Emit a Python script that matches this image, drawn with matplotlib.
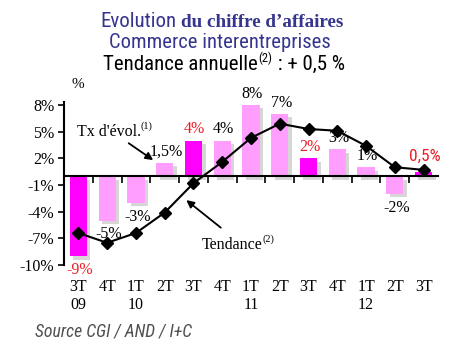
import numpy as np
import matplotlib
matplotlib.use('Agg')
import matplotlib.pyplot as plt
import matplotlib.patheffects as pe
from matplotlib.transforms import blended_transform_factory

# quarters and yearly labels
quarters = ['3T', '4T', '1T', '2T', '3T', '4T', '1T', '2T', '3T', '4T', '1T', '2T', '3T']
years = ['09', '', '10', '', '', '', '11', '', '', '', '12', '', '']

# quarterly rate of change (bars) and annual trend (line)
tx_evol = [-9, -5, -3, 1.5, 4, 4, 8, 7, 2, 3, 1, -2, 0.5]
tx_labels = ['-9%', '-5%', '-3%', '1,5%', '4%', '4%', '8%', '7%', '2%', '3%', '1%', '-2%', '0,5%']
tendance = [-6.4, -7.5, -6.4, -4.1, -0.8, 1.6, 4.3, 5.9, 5.3, 5.1, 3.4, 1.0, 0.7]

yticks = [-10, -7, -4, -1, 2, 5, 8]

MAGENTA = '#FF00FF'
PINK = '#FF9EFF'
RED = '#EE1C25'
BLUE = '#35358F'
SERIF = 'Liberation Serif'
NARROW = ['Roboto Condensed', 'Liberation Sans', 'DejaVu Sans']

W, H = 460, 350
fig = plt.figure(figsize=(W / 100, H / 100), dpi=100)
fig.patch.set_facecolor('white')


def fx(px):
    return px / W


def fy(py):
    return 1 - py / H


ax = fig.add_axes([fx(64), fy(265), fx(438) - fx(64), fy(105) - fy(265)])
x = np.arange(len(quarters))
is_3t = [q == '3T' for q in quarters]
colors = [MAGENTA if m else PINK for m in is_3t]

bars = ax.bar(x, tx_evol, width=0.6, color=colors, zorder=2)
for b in bars:
    b.set_path_effects([pe.SimplePatchShadow(offset=(2.5, -2.5), shadow_rgbFace='#999999', alpha=0.4),
                        pe.Normal()])

ax.plot(x, tendance, color='black', lw=1.5, marker='D', markersize=6, zorder=4)

ax.set_xlim(-0.5, len(quarters) - 0.5)
ax.set_ylim(-10, 8)

for s in ['top', 'right']:
    ax.spines[s].set_visible(False)
ax.spines['bottom'].set_position(('data', 0))
ax.spines['bottom'].set_linewidth(1.5)
ax.spines['bottom'].set_zorder(3)
ax.spines['left'].set_linewidth(1.5)
ax.spines['left'].set_bounds(-10, 8.3)
ax.set_xticks([])
ax.set_xticks(np.arange(0.5, len(quarters) - 0.5, 1), minor=True)
ax.tick_params(axis='x', which='minor', direction='out', length=5, width=1.2)
ax.set_yticks(yticks)
ax.set_yticklabels(['{}%'.format(v) for v in yticks], fontfamily=SERIF, fontsize=11.5)
ax.tick_params(axis='y', direction='out', length=4, width=1.2, pad=3)

# value labels
for i, (v, lab) in enumerate(zip(tx_evol, tx_labels)):
    col = RED if is_3t[i] else 'black'
    fam = NARROW if lab == '0,5%' else SERIF
    fs = 12.5 if lab == '0,5%' else 11.5
    dy = 8 if v > 0 else -10
    if lab == '0,5%':
        dy = 11
    ax.annotate(lab, (i, v), xytext=(1, dy), textcoords='offset points',
                ha='center', va='center', color=col, fontfamily=fam, fontsize=fs,
                zorder=5)

# category labels
tr = blended_transform_factory(ax.transData, ax.transAxes)
for i, (q, yr) in enumerate(zip(quarters, years)):
    ax.text(i, -0.135, q, transform=tr, ha='center', va='center', fontfamily=SERIF, fontsize=11.5)
    if yr:
        ax.text(i, -0.25, yr, transform=tr, ha='center', va='center', fontfamily=SERIF, fontsize=11.5)

ax.text(0.036, 1.13, '%', transform=ax.transAxes, ha='center', va='center', fontfamily=SERIF, fontsize=11)

# annotations with arrows
t1 = ax.text(-0.05, 5.0, "Tx d'évol.", ha='left', va='center', fontfamily=SERIF, fontsize=11.5)
ax.annotate('', xy=(2.6, 1.8), xytext=(1.75, 3.7),
            arrowprops=dict(arrowstyle='-|>', color='black', lw=1.3, shrinkA=0, shrinkB=0,
                            mutation_scale=11))
ax.annotate('(1)', xy=(1, 0.55), xycoords=t1, ha='left', va='bottom', fontfamily=SERIF, fontsize=7.5)

t2 = ax.text(4.3, -7.75, 'Tendance', ha='left', va='center', fontfamily=SERIF, fontsize=11.5)
ax.annotate('', xy=(3.75, -2.7), xytext=(4.95, -5.8),
            arrowprops=dict(arrowstyle='-|>', color='black', lw=1.3, shrinkA=0, shrinkB=0,
                            mutation_scale=11))
ax.annotate('(2)', xy=(1, 0.55), xycoords=t2, ha='left', va='bottom', fontfamily=SERIF, fontsize=7.5)

# titles
ta = fig.text(fx(100), fy(27), 'Evolution', ha='left', va='baseline', color=BLUE,
              fontfamily=NARROW, fontsize=15)
fig.canvas.draw()
abb = ta.get_window_extent()
fig.text((abb.x1 + 5) / W, fy(27), 'du chiffre d\u2019affaires', ha='left', va='baseline', color=BLUE,
         fontfamily=SERIF, fontweight='bold', fontsize=13.8)
fig.text(fx(220), fy(48), 'Commerce interentreprises', ha='center', va='baseline', color=BLUE,
         fontfamily=NARROW, fontsize=14.9)
tb = fig.text(fx(103), fy(70), 'Tendance annuelle', ha='left', va='baseline', color='black',
              fontfamily=NARROW, fontsize=15)
sb = fig.text(0, 0, '(2)', ha='left', va='baseline', fontfamily=NARROW, fontsize=9)
fig.canvas.draw()
bb = tb.get_window_extent()
sb.set_position(((bb.x1 + 1) / W, fy(62)))
fig.canvas.draw()
sbb = sb.get_window_extent()
fig.text(sbb.x1 / W, fy(70), ' : + 0,5 %', ha='left', va='baseline', color='black',
         fontfamily=NARROW, fontsize=15)

fig.text(fx(35), fy(332), 'Source CGI / AND / I+C', ha='left', va='center', color='#505050',
         fontfamily=NARROW, fontstyle='italic', fontsize=12.8)

fig.savefig('out.png', dpi=100)
